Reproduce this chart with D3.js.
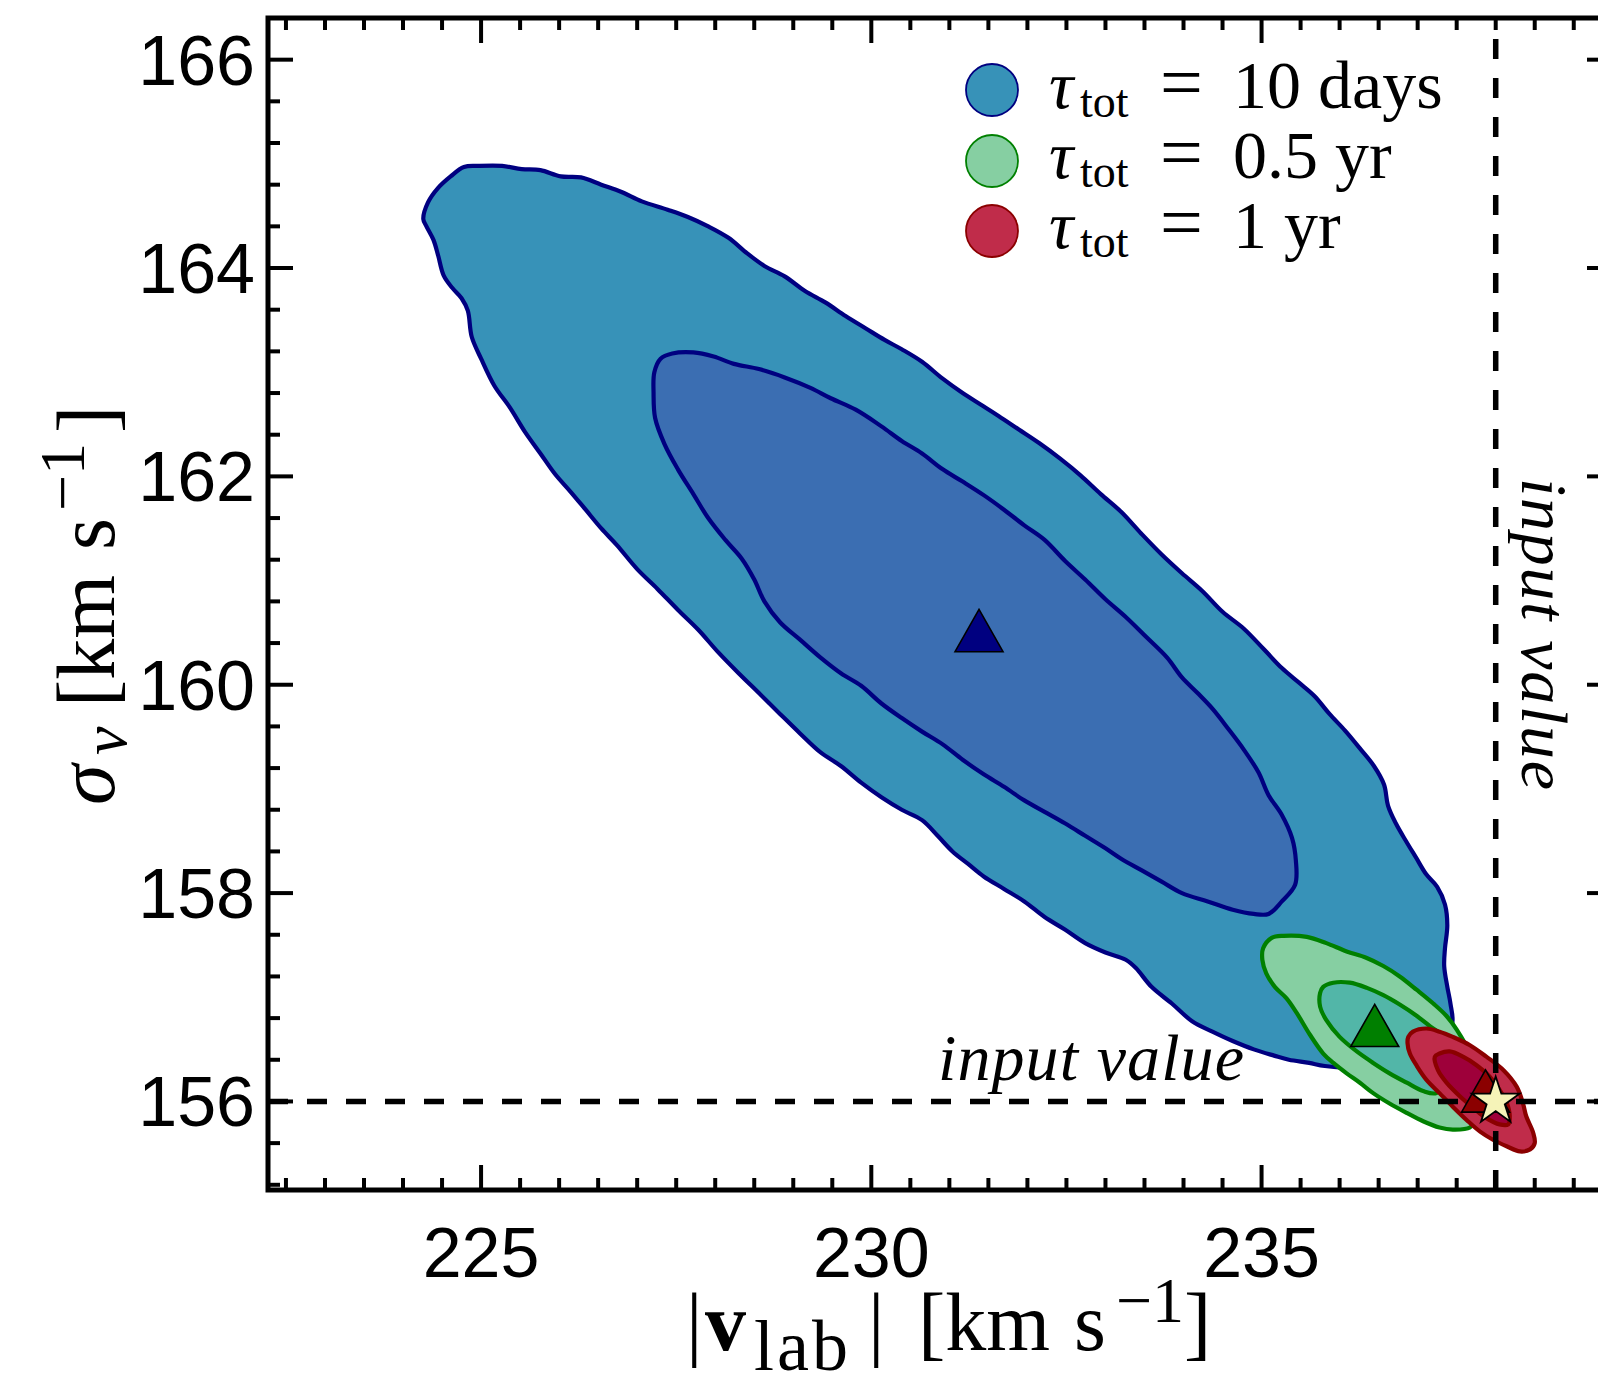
<!DOCTYPE html>
<html><head><meta charset="utf-8">
<script src="https://cdn.jsdelivr.net/npm/d3@7"></script>
<style>html,body{margin:0;padding:0;background:#fff;overflow:hidden}</style>
</head><body><svg id="chart" width="1598" height="1379"></svg>
<script>
// ---------------- data (data units: |v_lab| [km/s], sigma_v [km/s]) ----------------
const xDomain = [222.27, 239.49];
const yDomain = [155.15, 166.4];
const xMajorTicks = [225, 230, 235];
const yMajorTicks = [156, 158, 160, 162, 164, 166];
const xTickLabels = ["225", "230", "235"];
const yTickLabels = ["156", "158", "160", "162", "164", "166"];

const seriesNames = ["10 days", "0.5 yr", "1 yr"];
const bestFitX = [231.38, 236.45, 237.87];
const bestFitY = [160.52, 156.73, 156.10];
const inputVlab = 238.0;
const inputSigma = 156.0;

// 10 days: outer (95%) and inner (68%) contours
const blueOuter = [[224.26,164.47],[224.32,164.63],[224.45,164.77],[224.61,164.88],[224.78,164.97],[224.97,164.98],[225.27,164.98],[225.52,164.95],[225.76,164.94],[226.02,164.88],[226.28,164.87],[226.54,164.80],[226.80,164.73],[227.06,164.64],[227.39,164.56],[227.65,164.49],[227.91,164.40],[228.17,164.29],[228.41,164.14],[228.63,164.02],[228.89,163.92],[229.15,163.78],[229.41,163.67],[229.67,163.54],[229.93,163.42],[230.17,163.31],[230.39,163.22],[230.65,163.10],[230.91,162.94],[231.17,162.80],[231.40,162.69],[231.63,162.58],[231.89,162.45],[232.15,162.32],[232.42,162.17],[232.68,162.01],[232.94,161.83],[233.20,161.66],[233.46,161.45],[233.72,161.25],[233.98,161.07],[234.24,160.90],[234.50,160.70],[234.77,160.54],[235.03,160.34],[235.26,160.16],[235.48,160.02],[235.68,159.89],[235.87,159.72],[236.07,159.56],[236.27,159.38],[236.44,159.22],[236.57,159.04],[236.62,158.84],[236.72,158.67],[236.85,158.50],[236.98,158.34],[237.11,158.18],[237.25,158.06],[237.35,157.89],[237.38,157.69],[237.35,157.47],[237.34,157.30],[237.38,157.10],[237.42,156.94],[237.44,156.74],[237.25,156.55],[236.85,156.40],[236.33,156.32],[235.81,156.34],[235.61,156.37],[235.35,156.40],[235.16,156.44],[234.90,156.50],[234.63,156.58],[234.37,156.67],[234.11,156.77],[233.85,156.94],[233.59,157.10],[233.39,157.28],[233.26,157.36],[233.00,157.43],[232.74,157.52],[232.48,157.65],[232.22,157.77],[231.96,157.92],[231.70,158.04],[231.44,158.16],[231.24,158.28],[231.04,158.40],[230.85,158.55],[230.65,158.70],[230.39,158.80],[230.13,158.92],[229.87,159.06],[229.61,159.22],[229.35,159.35],[229.09,159.53],[228.83,159.72],[228.56,159.92],[228.30,160.11],[228.04,160.31],[227.78,160.53],[227.52,160.72],[227.26,160.92],[227.00,161.11],[226.74,161.34],[226.54,161.50],[226.34,161.68],[226.15,161.85],[225.95,162.02],[225.76,162.22],[225.56,162.43],[225.37,162.66],[225.17,162.87],[225.00,163.13],[224.88,163.34],[224.83,163.59],[224.75,163.71],[224.63,163.81],[224.52,163.93],[224.45,164.12],[224.39,164.27],[224.30,164.40]];
const blueInner = [[227.21,162.80],[227.22,163.00],[227.30,163.13],[227.45,163.18],[227.72,163.19],[227.98,163.15],[228.24,163.08],[228.56,163.03],[228.89,162.95],[229.22,162.85],[229.48,162.75],[229.80,162.64],[230.13,162.48],[230.39,162.34],[230.65,162.22],[230.91,162.07],[231.17,161.95],[231.44,161.82],[231.70,161.68],[231.96,161.53],[232.22,161.39],[232.48,161.19],[232.74,161.01],[233.00,160.82],[233.26,160.65],[233.52,160.46],[233.79,160.26],[233.98,160.07],[234.18,159.92],[234.37,159.77],[234.57,159.58],[234.77,159.38],[234.96,159.16],[235.09,158.94],[235.26,158.75],[235.39,158.53],[235.44,158.31],[235.43,158.08],[235.26,157.92],[235.09,157.80],[234.90,157.80],[234.63,157.84],[234.31,157.92],[233.98,158.00],[233.72,158.11],[233.46,158.22],[233.20,158.33],[233.00,158.43],[232.74,158.55],[232.48,158.67],[232.22,158.78],[231.96,158.89],[231.70,159.02],[231.44,159.14],[231.17,159.28],[230.91,159.43],[230.65,159.55],[230.39,159.68],[230.13,159.82],[229.87,159.99],[229.61,160.11],[229.35,160.26],[229.09,160.43],[228.83,160.60],[228.63,160.80],[228.50,161.01],[228.34,161.21],[228.13,161.39],[227.91,161.60],[227.72,161.83],[227.52,162.07],[227.35,162.31],[227.23,162.56]];

// 0.5 yr
const greenOuter = [[235.02,157.47],[235.13,157.57],[235.28,157.59],[235.58,157.58],[235.83,157.52],[236.09,157.44],[236.34,157.38],[236.56,157.30],[236.77,157.20],[236.99,157.07],[237.20,156.94],[237.37,156.82],[237.50,156.69],[237.67,156.46],[237.75,156.24],[237.75,155.95],[237.71,155.79],[237.67,155.75],[237.45,155.73],[237.28,155.75],[237.07,155.81],[236.86,155.89],[236.64,155.98],[236.43,156.08],[236.26,156.18],[236.09,156.27],[235.92,156.37],[235.79,156.46],[235.62,156.64],[235.45,156.85],[235.32,156.99],[235.17,157.10],[235.06,157.23],[235.01,157.36]];
const greenInner = [[235.75,157.04],[235.79,157.10],[235.92,157.14],[236.13,157.14],[236.35,157.09],[236.56,157.02],[236.77,156.93],[236.99,156.82],[237.16,156.72],[237.33,156.62],[237.45,156.40],[237.39,156.21],[237.24,156.08],[237.07,156.10],[236.86,156.18],[236.64,156.27],[236.43,156.37],[236.22,156.48],[236.00,156.62],[235.83,156.78],[235.75,156.91]];

// 1 yr
const redOuter = [[236.88,156.62],[236.94,156.67],[237.11,156.70],[237.28,156.67],[237.45,156.62],[237.67,156.54],[237.88,156.43],[238.10,156.30],[238.27,156.14],[238.35,155.98],[238.39,155.86],[238.48,155.70],[238.50,155.60],[238.44,155.54],[238.31,155.52],[238.14,155.57],[237.97,155.63],[237.80,155.71],[237.63,155.82],[237.45,155.95],[237.28,156.08],[237.11,156.21],[236.99,156.34],[236.90,156.46],[236.87,156.56]];
const redInner = [[237.22,156.43],[237.28,156.46],[237.41,156.48],[237.58,156.43],[237.75,156.35],[237.92,156.24],[238.05,156.11],[238.14,155.99],[238.18,155.86],[238.16,155.78],[238.05,155.78],[237.88,155.84],[237.71,155.94],[237.54,156.05],[237.37,156.18],[237.26,156.30]];

const contourFills = ["#3792b8", "#3b6eb2", "#86cfa2", "#52b6a8", "#c02c4a", "#9e003a"];
const contourStrokes = ["#000080", "#000080", "#008000", "#008000", "#8b0000", "#8b0000"];
const markerFills = ["#000080", "#007f00", "#8b0000"];
const legendFills = ["#3792b8", "#86cfa2", "#c02c4a"];
const legendStrokes = ["#000080", "#008000", "#8b0000"];

// ---------------- layout ----------------
const svg = d3.select("#chart");
svg.append("rect").attr("width", 1598).attr("height", 1379).attr("fill", "#fff");
const L = 268, R = 1612, T = 18, B = 1190;
const x = d3.scaleLinear().domain(xDomain).range([L, R]);
const y = d3.scaleLinear().domain(yDomain).range([B, T]);

const line = d3.line().x(d => x(d[0])).y(d => y(d[1])).curve(d3.curveCatmullRomClosed.alpha(0.5));
const contours = [blueOuter, blueInner, greenOuter, greenInner, redOuter, redInner];
const plot = svg.append("g");
plot.selectAll("path.contour").data(contours).join("path")
  .attr("class", "contour")
  .attr("d", line)
  .attr("fill", (d, i) => contourFills[i])
  .attr("stroke", (d, i) => contourStrokes[i])
  .attr("stroke-width", 4.2)
  .attr("stroke-linejoin", "round");

// input value dashed lines
plot.append("line")
  .attr("x1", x(inputVlab)).attr("x2", x(inputVlab))
  .attr("y1", B).attr("y2", T)
  .attr("stroke", "#000").attr("stroke-width", 5.5).attr("stroke-dasharray", "20 19");
plot.append("line")
  .attr("x1", L).attr("x2", R)
  .attr("y1", y(inputSigma)).attr("y2", y(inputSigma))
  .attr("stroke", "#000").attr("stroke-width", 5.5).attr("stroke-dasharray", "20 19");

// best-fit triangles
const triangleType = {
  draw(ctx, size) {
    const s = Math.sqrt(size);
    const w = s / 2, h = s * 0.44;
    ctx.moveTo(0, -h); ctx.lineTo(w, h); ctx.lineTo(-w, h); ctx.closePath();
  }
};
plot.selectAll("path.best").data(bestFitX).join("path")
  .attr("class", "best")
  .attr("transform", (d, i) => `translate(${x(d)},${y(bestFitY[i])})`)
  .attr("d", d3.symbol().type(triangleType).size(48 * 48))
  .attr("fill", (d, i) => markerFills[i])
  .attr("stroke", "#000").attr("stroke-width", 1.6).attr("stroke-linejoin", "miter");

// input star
plot.append("path")
  .attr("transform", `translate(${x(inputVlab)},${y(inputSigma)})`)
  .attr("d", d3.symbol().type(d3.symbolStar).size(25 * 25 / 0.8908))
  .attr("fill", "#f5f3b8").attr("stroke", "#000").attr("stroke-width", 1.8);

// input value labels
plot.append("text")
  .attr("x", 938).attr("y", 1080)
  .attr("font-family", "'Liberation Serif', serif").attr("font-style", "italic")
  .attr("font-size", 66)
  .attr("textLength", 306).attr("lengthAdjust", "spacing")
  .text("input value");
plot.append("text")
  .attr("transform", "translate(1522,478) rotate(90)")
  .attr("font-family", "'Liberation Serif', serif").attr("font-style", "italic")
  .attr("font-size", 66)
  .attr("textLength", 312).attr("lengthAdjust", "spacing")
  .text("input value");

// ---------------- frame & ticks ----------------
const ax = svg.append("g").attr("stroke", "#000");
const majL = 25, minL = 12;
const xMinor = d3.range(0, 40).map(i => 222.5 + i * 0.5).filter(v => v <= xDomain[1] && !xMajorTicks.includes(v));
const yMinor = d3.range(0, 30).map(i => +(155.2 + i * 0.4).toFixed(2)).filter(v => v <= yDomain[1] + 0.01 && !yMajorTicks.includes(v));

function xTick(v, len) {
  ax.append("line").attr("x1", x(v)).attr("x2", x(v)).attr("y1", B).attr("y2", B - len).attr("stroke-width", 4);
  ax.append("line").attr("x1", x(v)).attr("x2", x(v)).attr("y1", T).attr("y2", T + len).attr("stroke-width", 4);
}
function yTick(v, len) {
  ax.append("line").attr("y1", y(v)).attr("y2", y(v)).attr("x1", L).attr("x2", L + len).attr("stroke-width", 4);
  ax.append("line").attr("y1", y(v)).attr("y2", y(v)).attr("x1", R).attr("x2", R - len).attr("stroke-width", 4);
}
xMajorTicks.forEach(v => xTick(v, majL));
xMinor.forEach(v => xTick(v, minL));
yMajorTicks.forEach(v => yTick(v, majL));
yMinor.forEach(v => yTick(v, minL));
ax.append("rect").attr("x", L).attr("y", T).attr("width", R - L).attr("height", B - T)
  .attr("fill", "none").attr("stroke-width", 5);

// tick labels
const tl = svg.append("g").attr("font-family", "'Liberation Sans', Arial, sans-serif").attr("font-size", 70).attr("fill", "#000");
tl.selectAll("text.xl").data(xMajorTicks).join("text").attr("class", "xl")
  .attr("x", d => x(d)).attr("y", 1277).attr("text-anchor", "middle")
  .text((d, i) => xTickLabels[i]);
tl.selectAll("text.yl").data(yMajorTicks).join("text").attr("class", "yl")
  .attr("x", 255).attr("y", d => y(d) + 25).attr("text-anchor", "end")
  .text((d, i) => yTickLabels[i]);

// ---------------- axis titles ----------------
const serif = "'Liberation Serif', 'Times New Roman', serif";
const xt = svg.append("text").attr("y", 1350).attr("font-family", serif).attr("font-size", 82).attr("fill", "#000");
xt.append("tspan").attr("x", 686).text("|");
xt.append("tspan").attr("x", 705).attr("font-weight", "bold").text("v");
xt.append("tspan").attr("x", 754).attr("dy", 20).attr("font-size", 72).attr("letter-spacing", 3).text("lab");
xt.append("tspan").attr("x", 868).attr("dy", -20).text("|");
xt.append("tspan").attr("x", 918).text("[km");
xt.append("tspan").attr("x", 1074).text("s");
xt.append("tspan").attr("x", 1116).attr("dy", -28).attr("font-size", 64).text("\u22121");
xt.append("tspan").attr("x", 1184).attr("dy", 28).text("]");

const yt = svg.append("text").attr("transform", "translate(114,805) rotate(-90)")
  .attr("font-family", serif).attr("font-size", 82).attr("fill", "#000");
yt.append("tspan").attr("x", 0).attr("font-style", "italic").text("\u03C3");
yt.append("tspan").attr("x", 50).attr("dy", 12).attr("font-size", 64).attr("font-style", "italic").text("v");
yt.append("tspan").attr("x", 98).attr("dy", -12).text("[km");
yt.append("tspan").attr("x", 255).text("s");
yt.append("tspan").attr("x", 294).attr("dy", -30).attr("font-size", 64).text("\u22121");
yt.append("tspan").attr("x", 372).attr("dy", 30).text("]");

// ---------------- legend ----------------
const legendCY = [90, 161, 231];
const legendBase = [108, 178, 248];
const lg = svg.append("g");
seriesNames.forEach((name, i) => {
  lg.append("circle").attr("cx", 992).attr("cy", legendCY[i]).attr("r", 26)
    .attr("fill", legendFills[i]).attr("stroke", legendStrokes[i]).attr("stroke-width", 1.8);
  const t = lg.append("text").attr("y", legendBase[i]).attr("font-family", serif).attr("font-size", 68).attr("fill", "#000");
  t.append("tspan").attr("x", 1049).attr("font-style", "italic").text("\u03C4");
  t.append("tspan").attr("x", 1080).attr("dy", 9).attr("font-size", 46).text("tot");
  t.append("tspan").attr("x", 1160).attr("dy", -9).attr("font-size", 76).text("=");
  t.append("tspan").attr("x", 1233).text(name);
});
</script></body></html>
